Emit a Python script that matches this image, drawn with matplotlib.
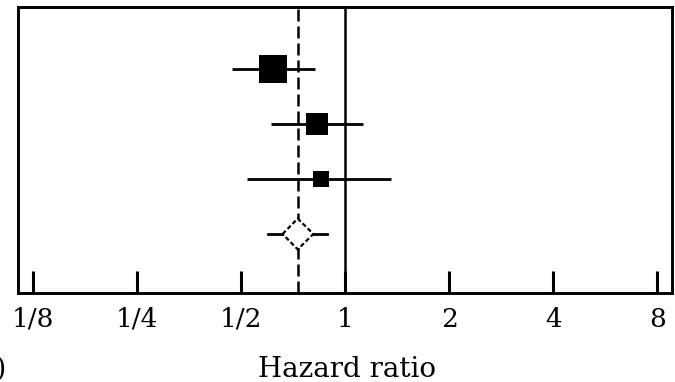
import matplotlib
matplotlib.use("Agg")
import matplotlib.pyplot as plt
from matplotlib.patches import Polygon
import numpy as np

# study estimates (hazard ratios), top to bottom
hr = [0.62, 0.83, 0.85]
ci_low = [0.47, 0.61, 0.52]
ci_high = [0.82, 1.13, 1.36]
weight = [51, 32, 17]  # percent, drives square size

# pooled estimate
pooled_hr = 0.73
pooled_ci = (0.66, 0.81)
pooled_pi = (0.60, 0.89)

tick_vals = [1/8, 1/4, 1/2, 1, 2, 4, 8]
tick_labels = ['1/8', '1/4', '1/2', '1', '2', '4', '8']

plt.rcParams['font.family'] = 'DejaVu Serif'

fig = plt.figure(figsize=(6.75, 3.82), dpi=100)
ax = fig.add_axes([18/675, 89/382, 654/675, 286/382])

rows = np.arange(len(hr) + 1, 1, -1)   # 4, 3, 2
pooled_row = 1

ax.axvline(1, color='black', lw=1.8, zorder=1)
ax.axvline(pooled_hr, color='black', lw=1.8, dashes=(4.8, 2.0), zorder=1)

for y, est, lo, hi, w in zip(rows, hr, ci_low, ci_high, weight):
    ax.plot([lo, hi], [y, y], color='black', lw=2, zorder=2, solid_capstyle='butt')
    ax.plot(est, y, marker='s', color='black', markersize=2.8*np.sqrt(w),
            markeredgewidth=0, zorder=3)

# pooled diamond with whiskers
ax.plot([pooled_pi[0], pooled_pi[1]], [pooled_row, pooled_row], color='black', lw=2, zorder=2)
h = 0.28
diamond = Polygon([[pooled_ci[0], pooled_row], [pooled_hr, pooled_row + h],
                   [pooled_ci[1], pooled_row], [pooled_hr, pooled_row - h]],
                  closed=True, facecolor='white', edgecolor='black', lw=1.6,
                  linestyle=(0, (2, 1.2)), zorder=4)
ax.add_patch(diamond)

ax.set_xscale('log', base=2)
ax.set_xlim(2**-3.14, 2**3.14)
ax.set_ylim(-0.073, 5.127)
ax.set_xticks(tick_vals)
ax.set_xticklabels(tick_labels, fontsize=19)
ax.xaxis.set_minor_locator(matplotlib.ticker.NullLocator())
ax.set_yticks([])
ax.tick_params(axis='x', direction='in', length=16, width=2.2, pad=10)

for s in ax.spines.values():
    s.set_linewidth(2.1)

fig.text(347/675, 5/382, 'Hazard ratio', ha='center', va='baseline', fontsize=20)
fig.text(7/675, 5/382, '(b)', ha='right', va='baseline', fontsize=20)

fig.savefig('out.png', dpi=100)
